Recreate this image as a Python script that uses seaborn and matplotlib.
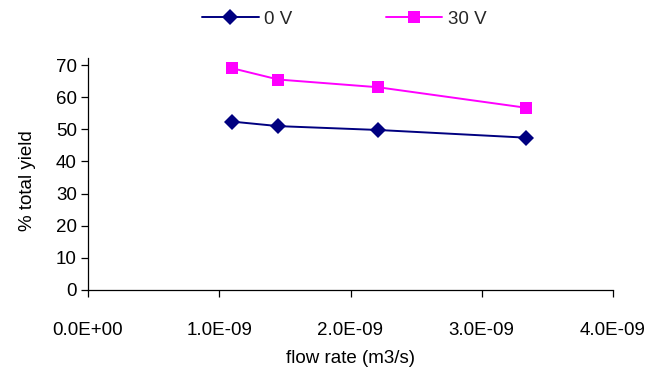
import matplotlib
matplotlib.use("Agg")
import matplotlib.pyplot as plt
import seaborn as sns
import pandas as pd
from matplotlib.ticker import FuncFormatter

sns.set_theme(style="white")
plt.rcParams['font.family'] = ['Liberation Sans', 'DejaVu Sans']

flow_rate = [1.10e-9, 1.45e-9, 2.21e-9, 3.34e-9]
yield_0v = [52.4, 51.0, 49.8, 47.4]
yield_30v = [69.0, 65.5, 63.1, 56.7]
series_names = ["0 V", "30 V"]

df = pd.DataFrame({
    "flow": flow_rate * 2,
    "yield": yield_0v + yield_30v,
    "series": [series_names[0]] * 4 + [series_names[1]] * 4,
})

FS = 13.5
fig = plt.figure(figsize=(6.51, 3.69), dpi=100)
ax = fig.add_axes([88/651, 1-290/369, (613-88)/651, (290-58)/369])

sns.lineplot(data=df, x="flow", y="yield", hue="series", style="series",
             palette={"0 V": "#000080", "30 V": "#FF00FF"},
             markers={"0 V": "D", "30 V": "s"}, dashes=False,
             markersize=8, markeredgewidth=0, linewidth=1.4, ax=ax)

ax.set_xlim(0, 4e-9)
ax.set_ylim(0, 72.2)
ax.set_xticks([0, 1e-9, 2e-9, 3e-9, 4e-9])
ax.set_yticks(range(0, 71, 10))
ax.xaxis.set_major_formatter(FuncFormatter(lambda v, p: "0.0E+00" if v == 0 else "%.1fE-%02d" % (v / 1e-9, 9)))
ax.xaxis.get_offset_text().set_visible(False)
for s in ["top", "right"]:
    ax.spines[s].set_visible(False)
for s in ["left", "bottom"]:
    ax.spines[s].set_color("black")
    ax.spines[s].set_linewidth(0.9)
ax.tick_params(axis="both", which="major", direction="out", length=5, width=0.9,
               color="black", labelsize=FS, labelcolor="black", bottom=True, left=True, pad=3)
ax.tick_params(axis="x", pad=18)
ax.set_xlabel("flow rate (m3/s)", fontsize=FS, color="black", labelpad=8)
ax.set_ylabel("% total yield", fontsize=FS, color="black")
ax.yaxis.set_label_coords(-0.099, 0.47)

ax.legend(loc="upper center", bbox_to_anchor=(0.5 - 6/525, 1.0 + 64/232), ncol=2, frameon=False,
          fontsize=FS, handlelength=3.0, columnspacing=5.0, handletextpad=0.3)

fig.savefig("out.png", dpi=100)
